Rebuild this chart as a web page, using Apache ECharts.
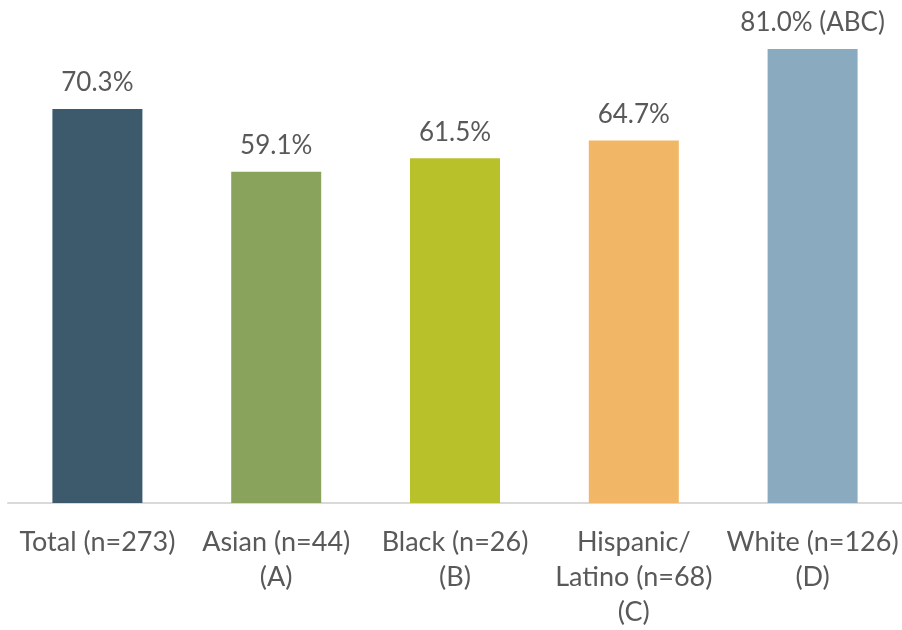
<!DOCTYPE html>
<html>
<head>
<meta charset="utf-8">
<script src="https://cdn.jsdelivr.net/npm/echarts@6/dist/echarts.min.js"></script>
<style>
  html, body { margin: 0; padding: 0; background: #fff; }
  #chart { width: 902px; height: 630px; }
</style>
</head>
<body>
<div id="chart"></div>
<script>
// Share by group, with significance letters on the labels
const categories = ['Total (n=273)', 'Asian (n=44)\n(A)', 'Black (n=26)\n(B)', 'Hispanic/\nLatino (n=68)\n(C)', 'White (n=126)\n(D)'];
const values = [70.3, 59.1, 61.5, 64.7, 81.0];
const sigLetters = ['', '', '', '', ' (ABC)'];
const barColors = ['#3d5a6c', '#8aa35c', '#b8c02a', '#f2b766', '#8aaabf'];

const FONT = 'Lato, "Open Sans", sans-serif';
const TEXT = '#595959';

const chart = echarts.init(document.getElementById('chart'), null, { renderer: 'canvas' });
chart.setOption({
  animation: false,
  grid: { left: 8, top: 0, width: 896, height: 503, containLabel: false },
  xAxis: {
    type: 'category',
    data: categories,
    axisTick: { show: false },
    axisLine: { lineStyle: { color: '#d9d9d9', width: 2 } },
    axisLabel: {
      interval: 0, color: TEXT, fontFamily: FONT, fontSize: 27,
      lineHeight: 35, margin: 22
    }
  },
  yAxis: { type: 'value', min: 0, max: 89.76, show: false, splitLine: { show: false } },
  series: [{
    type: 'bar',
    barWidth: 90,
    data: values.map((v, i) => ({ value: v, itemStyle: { color: barColors[i] } })),
    label: {
      show: true, position: 'top', distance: 13,
      color: TEXT, fontFamily: FONT, fontSize: 26,
      formatter: p => p.value.toFixed(1) + '%' + sigLetters[p.dataIndex]
    }
  }]
});
</script>
</body>
</html>
